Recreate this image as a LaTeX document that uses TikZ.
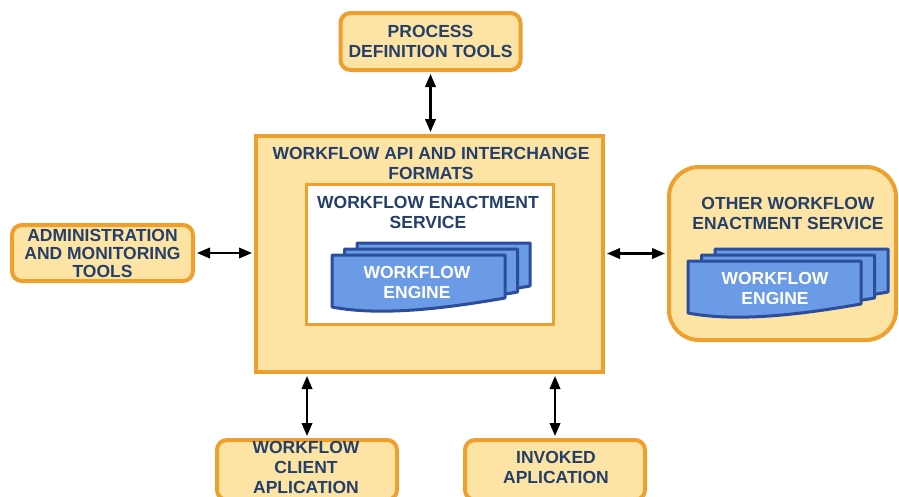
\documentclass[tikz,border=0pt]{standalone}
\usepackage{fontspec}
\setmainfont{Liberation Sans}
\usetikzlibrary{arrows.meta,calc}

\definecolor{boxfill}{HTML}{FDE3A4}
\definecolor{boxline}{HTML}{EEA02E}
\definecolor{navy}{HTML}{243F6A}
\definecolor{engfill}{HTML}{6B9BE6}
\definecolor{engline}{HTML}{2A4D9C}

\begin{document}
\begin{tikzpicture}[x=1pt,y=-1pt,
  lbl/.style={font=\fontsize{17.5}{20}\selectfont\bfseries, text=navy, align=center, inner sep=0pt},
  tan/.style={draw=boxline, fill=boxfill, line width=4pt, inner sep=0pt},
  roundtan/.style={tan, rounded corners=10pt},
  link/.style={draw=black, line width=2.2pt,
    {Triangle[length=13pt,width=10.5pt]}-{Triangle[length=13pt,width=10.5pt]},
    shorten <=2pt, shorten >=2pt},
  sheet/.pic={
    \path[fill=engfill, draw=engline, line width=3pt, line join=round]
      (0,0) -- (173,0) -- (173,43)
      .. controls (121,52) and (52,62) .. (0,52) -- cycle;
  }
]
\clip (0,0) rectangle (899,496);
\fill[white] (0,0) rectangle (899,496);

% central API frame and the enactment service inside it
\node[tan, minimum width=347pt, minimum height=236pt] (api) at (429.5,254) {};
\node[lbl] (apititle) at (431,163) {WORKFLOW API AND INTERCHANGE\\FORMATS};
\node[draw=boxline, fill=white, line width=3pt, minimum width=247pt, minimum height=140pt] (wes) at (430,254.5) {};
\node[lbl] (westitle) at (428,212.5) {WORKFLOW ENACTMENT\\SERVICE};

% stacked engine sheets
\pic at (357,243) {sheet};
\pic at (344.5,249) {sheet};
\pic at (332,255) {sheet};
\node[lbl, text=white] (engA) at (417,282.2) {WORKFLOW\\ENGINE};

% other enactment service
\node[tan, rounded corners=30pt, minimum width=227pt, minimum height=173pt] (other) at (782.5,253.5) {};
\node[lbl] (othertitle) at (788,213) {OTHER WORKFLOW\\ENACTMENT SERVICE};
\pic at (715,249) {sheet};
\pic at (701.5,255) {sheet};
\pic at (688,261) {sheet};
\node[lbl, text=white] (engB) at (775,288) {WORKFLOW\\ENGINE};

% surrounding tools
\node[roundtan, lbl, minimum width=180pt, minimum height=57pt] (proc) at (430.5,41.5) {PROCESS\\DEFINITION TOOLS};
\node[roundtan, lbl, font=\fontsize{17.5}{18}\selectfont\bfseries, minimum width=181pt, minimum height=56pt] (admin) at (102.5,253) {ADMINISTRATION\\AND MONITORING\\TOOLS};
\node[roundtan, minimum width=180pt, minimum height=60pt] (client) at (307,470) {};
\node[lbl] (clienttext) at (306,467) {WORKFLOW\\CLIENT\\APLICATION};
\node[roundtan, minimum width=180pt, minimum height=60pt] (invk) at (555,470) {};
\node[lbl] (invktext) at (556,467) {INVOKED\\APLICATION};

% interfaces
\draw[link] (proc.south) -- (proc.south |- api.north);
\draw[link] (admin.east) -- (admin.east -| api.west);
\draw[link] (api.east |- other.west) -- (other.west);
\draw[link] (client.north) -- (client.north |- api.south);
\draw[link] (invk.north) -- (invk.north |- api.south);
\end{tikzpicture}
\end{document}
